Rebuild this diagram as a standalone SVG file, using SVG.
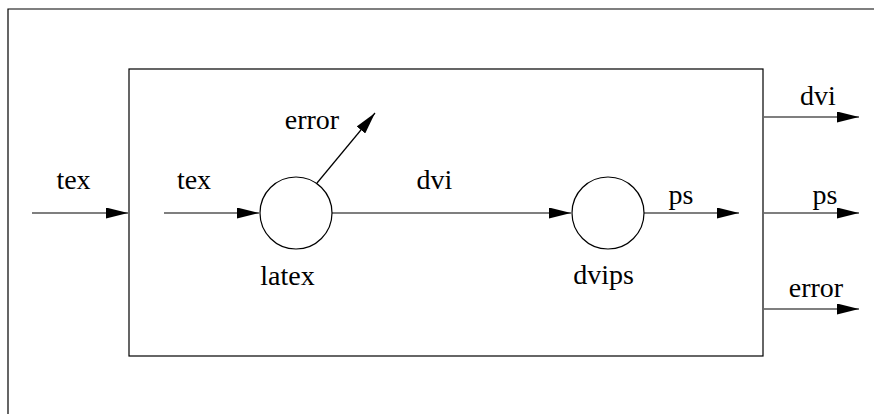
<svg xmlns="http://www.w3.org/2000/svg" width="874" height="414" viewBox="0 0 874 414">
<style>
.ln{stroke:#000;stroke-width:1.2;fill:none}
.box{stroke:#000;stroke-width:1.2;fill:none}
.nd{stroke:#000;stroke-width:1.2;fill:#fff}
text{font-family:"Liberation Serif","Times New Roman",serif;font-size:28px;fill:#000}
.m{text-anchor:middle}
</style>
<defs>
<marker id="ah" markerWidth="22" markerHeight="11" refX="22" refY="5.5" orient="auto" markerUnits="userSpaceOnUse">
<path d="M0,0 L22,5.5 L0,11 Z" fill="#000"/>
</marker>
</defs>
<g id="frame"><path class="box" d="M8,414 V9 H874"/></g>
<g id="system"><rect class="box" x="129" y="69" width="634" height="287"/></g>
<g id="latex"><circle class="nd" cx="296" cy="213" r="36"/><text class="m" x="287.5" y="285">latex</text></g>
<g id="dvips"><circle class="nd" cx="608" cy="213" r="36"/><text class="m" x="603.5" y="284">dvips</text></g>
<g id="connectors">
<line class="ln" x1="32" y1="213" x2="128" y2="213" marker-end="url(#ah)"/>
<text class="m" x="73.5" y="189">tex</text>
<line class="ln" x1="164" y1="213" x2="259" y2="213" marker-end="url(#ah)"/>
<text class="m" x="194" y="189">tex</text>
<line class="ln" x1="317" y1="183" x2="375" y2="113" marker-end="url(#ah)"/>
<text class="m" x="312" y="129">error</text>
<line class="ln" x1="332" y1="213" x2="571" y2="213" marker-end="url(#ah)"/>
<text class="m" x="434.5" y="189">dvi</text>
<line class="ln" x1="644" y1="213" x2="739" y2="213" marker-end="url(#ah)"/>
<text class="m" x="681" y="204">ps</text>
<line class="ln" x1="764" y1="117" x2="859" y2="117" marker-end="url(#ah)"/>
<text class="m" x="818" y="105">dvi</text>
<line class="ln" x1="764" y1="213" x2="859" y2="213" marker-end="url(#ah)"/>
<text class="m" x="825" y="204">ps</text>
<line class="ln" x1="764" y1="309" x2="859" y2="309" marker-end="url(#ah)"/>
<text class="m" x="816" y="297">error</text>
</g>
</svg>
